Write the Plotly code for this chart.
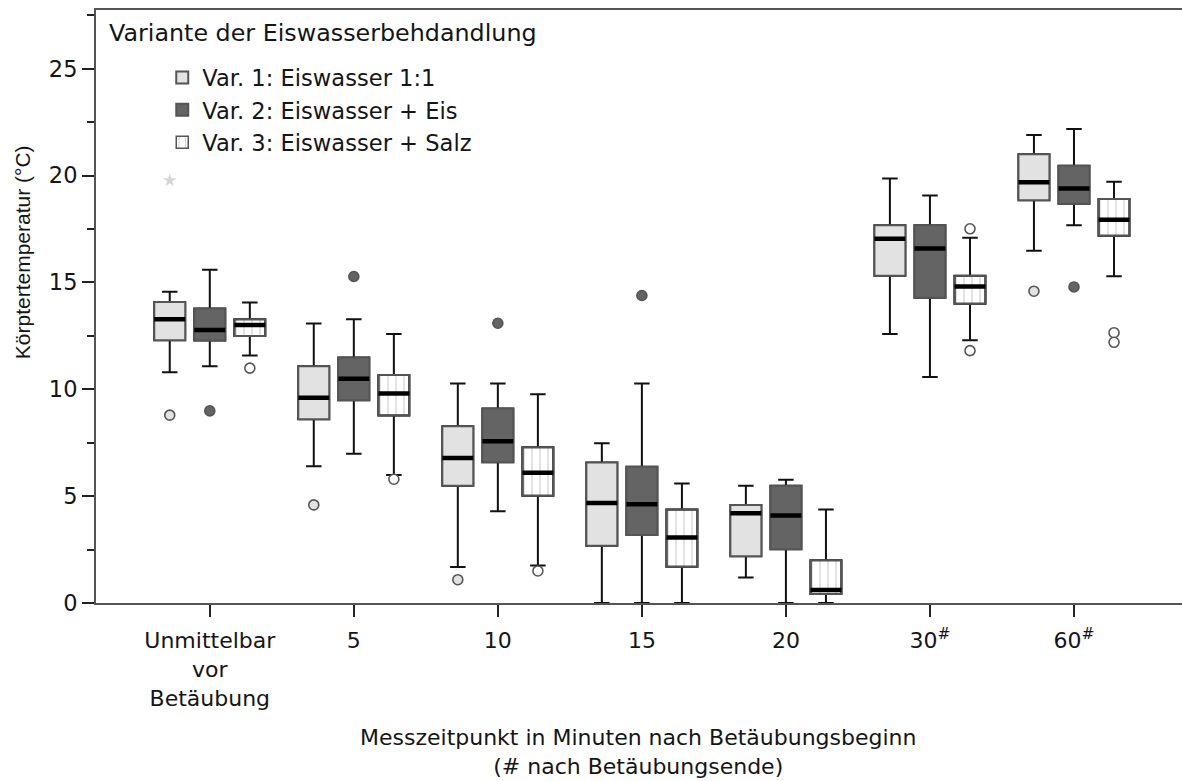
import plotly.graph_objects as go
import numpy as np

# Messzeitpunkte (Kategorien der x-Achse)
zeitpunkte = ["Unmittelbar<br>vor<br>Betäubung", "5", "10", "15", "20",
              "30<sup>#</sup>", "60<sup>#</sup>"]

# Var. 1: Eiswasser 1:1
v1_q1 = [12.30, 8.60, 5.49, 2.68, 2.19, 15.31, 18.85]
v1_med = [13.28, 9.61, 6.79, 4.68, 4.20, 17.04, 19.69]
v1_q3 = [14.08, 11.08, 8.27, 6.57, 4.59, 17.68, 21.00]
v1_lo = [10.80, 6.40, 1.69, 0.00, 1.19, 12.59, 16.48]
v1_hi = [14.57, 13.08, 10.27, 7.48, 5.49, 19.87, 21.90]
v1_out_idx = [0, 1, 2, 6]
v1_out_val = [8.79, 4.59, 1.09, 14.59]
v1_ext_idx = [0]
v1_ext_val = [19.77]

# Var. 2: Eiswasser + Eis
v2_q1 = [12.28, 9.49, 6.59, 3.18, 2.51, 14.28, 18.68]
v2_med = [12.78, 10.49, 7.57, 4.62, 4.09, 16.59, 19.40]
v2_q3 = [13.78, 11.49, 9.10, 6.38, 5.49, 17.68, 20.46]
v2_lo = [11.08, 6.98, 4.29, 0.00, 0.00, 10.58, 17.68]
v2_hi = [15.59, 13.28, 10.27, 10.27, 5.77, 19.07, 22.18]
v2_out_idx = [0, 1, 2, 3, 6]
v2_out_val = [8.99, 15.28, 13.09, 14.39, 14.79]

# Var. 3: Eiswasser + Salz
v3_q1 = [12.50, 8.77, 5.02, 1.70, 0.42, 14.00, 17.18]
v3_med = [13.01, 9.80, 6.09, 3.06, 0.61, 14.81, 17.93]
v3_q3 = [13.28, 10.67, 7.29, 4.38, 2.00, 15.31, 18.90]
v3_lo = [11.58, 5.99, 1.76, 0.00, 0.00, 12.30, 15.29]
v3_hi = [14.06, 12.59, 9.77, 5.59, 4.37, 17.09, 19.71]
v3_out_idx = [0, 1, 2, 5, 5, 6, 6]
v3_out_val = [10.99, 5.79, 1.50, 17.51, 11.81, 12.65, 12.20]

FONT = "DejaVu Sans"
FONT_Y = "Liberation Sans"
TXT = "#151515"
BOX_W = 0.215      # Boxbreite in Kategorie-Einheiten
SHIFT = 0.278      # Abstand der Boxen innerhalb einer Gruppe
EDGE = "#555555"
WHISKER = "#111111"

varianten = [
    dict(name="Var. 1: Eiswasser 1:1", q1=v1_q1, med=v1_med, q3=v1_q3, lo=v1_lo, hi=v1_hi,
         oi=v1_out_idx, ov=v1_out_val, fill="#e2e2e2", pattern=False, dx=-SHIFT),
    dict(name="Var. 2: Eiswasser + Eis", q1=v2_q1, med=v2_med, q3=v2_q3, lo=v2_lo, hi=v2_hi,
         oi=v2_out_idx, ov=v2_out_val, fill="#646464", pattern=False, dx=0.0),
    dict(name="Var. 3: Eiswasser + Salz", q1=v3_q1, med=v3_med, q3=v3_q3, lo=v3_lo, hi=v3_hi,
         oi=v3_out_idx, ov=v3_out_val, fill="#ffffff", pattern=True, dx=SHIFT),
]

base = np.arange(len(zeitpunkte), dtype=float)

fig = go.Figure()

for rank, v in enumerate(varianten, start=1):
    xs = base + v["dx"]
    q1 = np.array(v["q1"])
    q3 = np.array(v["q3"])

    # gepunktete Füllung für Var. 3 (Balken mit Muster als Boxhintergrund)
    if v["pattern"]:
        fig.add_trace(go.Bar(
            x=xs, y=q3 - q1, base=q1, width=BOX_W,
            marker=dict(color="#ffffff", line=dict(color=EDGE, width=1.5),
                        pattern=dict(shape="|", fgcolor="#8a8a8a", size=8, solidity=0.12)),
            name=v["name"], legendrank=rank, showlegend=True, hoverinfo="skip"))

    # Whisker mit Endstrichen
    fig.add_trace(go.Box(
        x=xs, q1=v["q1"], median=v["med"], q3=v["q3"],
        lowerfence=v["lo"], upperfence=v["hi"], width=BOX_W, whiskerwidth=0.5,
        line=dict(color=WHISKER, width=2), fillcolor="rgba(0,0,0,0)",
        boxpoints=False, showlegend=False, hoverinfo="skip"))

    # Box mit grauem Rand und Füllung
    fig.add_trace(go.Box(
        x=xs, q1=v["q1"], median=v["med"], q3=v["q3"],
        lowerfence=v["q1"], upperfence=v["q3"], width=BOX_W, showwhiskers=False,
        line=dict(color=EDGE, width=2),
        fillcolor="rgba(0,0,0,0)" if v["pattern"] else v["fill"],
        boxpoints=False, name=v["name"], legendrank=rank,
        showlegend=not v["pattern"], hoverinfo="skip"))

    # dicker Medianstrich
    fig.add_trace(go.Box(
        x=xs, q1=v["med"], median=v["med"], q3=v["med"],
        lowerfence=v["med"], upperfence=v["med"], width=BOX_W, showwhiskers=False,
        line=dict(color="#000000", width=4.5), fillcolor="rgba(0,0,0,0)",
        boxpoints=False, showlegend=False, hoverinfo="skip"))

    # Ausreißer
    fig.add_trace(go.Scatter(
        x=base[v["oi"]] + v["dx"], y=v["ov"], mode="markers",
        marker=dict(symbol="circle", size=10, color=v["fill"],
                    line=dict(color=EDGE, width=1.6)),
        showlegend=False, hoverinfo="skip"))

# Extremwert (Stern)
fig.add_trace(go.Scatter(
    x=base[v1_ext_idx] - SHIFT, y=v1_ext_val, mode="markers",
    marker=dict(symbol="star", size=10, color="#d6d6d6", line=dict(width=0)),
    showlegend=False, hoverinfo="skip"))

fig.add_annotation(text="Variante der Eiswasserbehdandlung", xref="paper", yref="paper",
                   x=0.0101, y=0.961, xanchor="left", yanchor="middle", showarrow=False,
                   font=dict(family=FONT, size=23.8, color=TXT))
fig.add_annotation(text="Körptertemperatur (°C)", xref="paper", yref="paper",
                   x=-0.067, y=0.592, xanchor="center", yanchor="middle", textangle=-90,
                   showarrow=False, font=dict(family=FONT_Y, size=21, color=TXT))
# Achsentitel der x-Achse (zweizeilig)
fig.add_annotation(text="Messzeitpunkt in Minuten nach Betäubungsbeginn<br>(# nach Betäubungsende)",
                   xref="paper", yref="paper", x=0.499, y=-0.252, xanchor="center",
                   yanchor="middle", showarrow=False,
                   font=dict(family=FONT, size=22, color=TXT))

fig.update_layout(
    width=1182, height=781, autosize=False,
    margin=dict(l=96, r=0, t=10, b=178),
    paper_bgcolor="white", plot_bgcolor="white",
    font=dict(family=FONT, size=22, color=TXT),
    barmode="overlay", boxmode="overlay",
    showlegend=True,
    legend=dict(x=0.061, y=0.922, xanchor="left", yanchor="top",
                bgcolor="rgba(0,0,0,0)", font=dict(family=FONT, size=22.6, color=TXT),
                traceorder="normal", tracegroupgap=0, itemclick=False),
    xaxis=dict(range=[-0.79, 6.75], tickmode="array", tickvals=base.tolist(),
               ticktext=zeitpunkte, ticks="outside", ticklen=12, tickwidth=1.5,
               tickcolor="#222222", showline=True, linecolor="#555555", linewidth=2,
               mirror=True, showgrid=False, zeroline=False, ticklabelstandoff=5,
               tickfont=dict(family=FONT, size=22, color=TXT)),
    yaxis=dict(range=[0, 27.75], tickmode="array", tickvals=[0, 5, 10, 15, 20, 25],
               ticks="outside", ticklen=12, tickwidth=1.5, tickcolor="#222222",
               minor=dict(dtick=2.5, ticks="outside", ticklen=7, tickwidth=1.5,
                          tickcolor="#222222", showgrid=False),
               showline=True, linecolor="#555555", linewidth=2,
               showgrid=False, zeroline=False,
               tickfont=dict(family=FONT, size=22.5, color=TXT)),
)

fig.write_html("out.html")
